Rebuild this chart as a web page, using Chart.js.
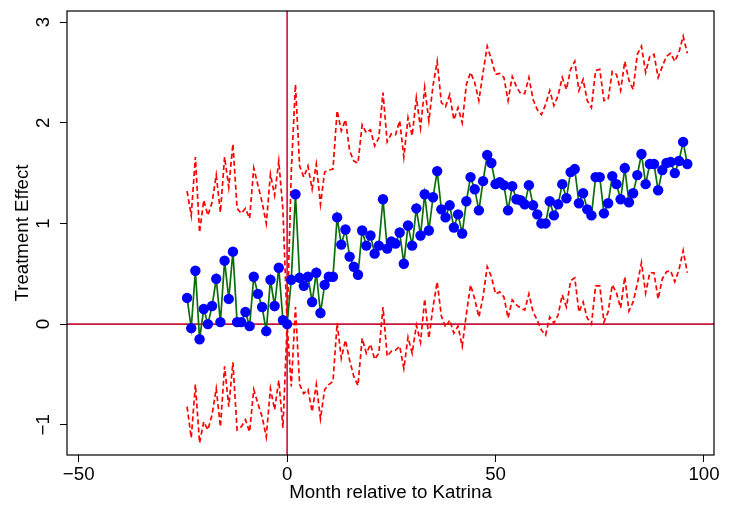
<!DOCTYPE html>
<html>
<head>
<meta charset="utf-8">
<script src="https://cdn.jsdelivr.net/npm/chart.js@4.4.1/dist/chart.umd.min.js"></script>
<style>
  html, body { margin: 0; padding: 0; background: #ffffff; }
  #wrap { width: 731px; height: 506px; }
</style>
</head>
<body>
<div id="wrap"><canvas id="c" width="731" height="506"></canvas></div>
<script>
// ---- data ----
const months = [
  -24,-23,-22,-21,-20,-19,-18,-17,-16,-15,-14,-13,-12,-11,-10,-9,-8,-7,-6,-5,-4,-3,-2,-1,
  0,1,2,3,4,5,6,7,8,9,10,11,12,13,14,15,16,17,18,19,20,21,22,23,24,25,26,27,28,29,30,
  31,32,33,34,35,36,37,38,39,40,41,42,43,44,45,46,47,48,49,50,51,52,53,54,55,56,57,58,59,60,
  61,62,63,64,65,66,67,68,69,70,71,72,73,74,75,76,77,78,79,80,81,82,83,84,85,86,87,88,89,90,
  91,92,93,94,95,96
];
const estimate = [
  0.26,-0.04,0.53,-0.15,0.15,0.00,0.18,0.45,0.02,0.63,0.25,0.72,0.02,0.02,0.12,-0.02,0.47,0.30,0.17,-0.07,0.44,0.18,0.56,0.04,
  0.00,0.44,1.29,0.46,0.38,0.47,0.22,0.51,0.11,0.39,0.47,0.47,1.06,0.79,0.94,0.67,0.57,0.49,0.93,0.78,0.88,0.70,0.78,1.24,0.75,0.82,0.80,0.91,0.60,0.98,0.78,
  1.15,0.88,1.29,0.93,1.26,1.52,1.14,1.06,1.18,0.96,1.09,0.90,1.22,1.46,1.34,1.13,1.42,1.68,1.60,1.39,1.41,1.38,1.13,1.37,1.24,1.23,1.19,1.38,1.18,1.09,
  1.00,1.00,1.22,1.08,1.19,1.39,1.25,1.51,1.54,1.20,1.30,1.14,1.08,1.46,1.46,1.10,1.20,1.47,1.39,1.24,1.55,1.21,1.30,1.48,1.69,1.39,1.59,1.59,1.33,1.53,
  1.60,1.61,1.50,1.62,1.81,1.59
];
const upperCI = [
  1.32,1.08,1.66,0.91,1.23,1.08,1.21,1.48,1.11,1.66,1.36,1.79,1.15,1.10,1.15,1.05,1.55,1.38,1.21,1.00,1.49,1.28,1.62,1.13,
  0.00,1.52,2.38,1.57,1.46,1.57,1.34,1.59,1.19,1.51,1.53,1.54,2.12,1.92,2.03,1.72,1.62,1.60,1.98,1.90,1.93,1.77,1.85,2.30,1.81,1.89,1.88,2.02,1.66,2.05,1.87,
  2.25,1.95,2.35,2.02,2.37,2.61,2.20,2.16,2.28,2.03,2.15,2.00,2.38,2.50,2.40,2.22,2.50,2.76,2.63,2.48,2.49,2.45,2.22,2.46,2.36,2.29,2.29,2.45,2.23,2.13,
  2.08,2.18,2.32,2.17,2.27,2.45,2.33,2.53,2.61,2.32,2.43,2.22,2.15,2.52,2.53,2.22,2.23,2.51,2.48,2.32,2.61,2.42,2.33,2.68,2.76,2.50,2.66,2.68,2.45,2.56,
  2.66,2.69,2.61,2.70,2.86,2.69
];
const lowerCI = [
  -0.82,-1.13,-0.60,-1.18,-0.97,-1.05,-0.90,-0.64,-1.02,-0.42,-0.82,-0.38,-1.05,-1.02,-0.95,-1.07,-0.65,-0.79,-0.92,-1.12,-0.64,-0.85,-0.56,-1.03,
  0.00,-0.62,0.17,-0.60,-0.69,-0.65,-0.87,-0.60,-0.94,-0.65,-0.60,-0.57,0.01,-0.34,-0.16,-0.36,-0.52,-0.61,-0.14,-0.29,-0.20,-0.35,-0.29,0.17,-0.32,-0.27,-0.26,-0.22,-0.44,-0.13,-0.29,
  -0.01,-0.18,0.25,-0.14,0.17,0.42,0.08,-0.03,0.04,-0.09,-0.02,-0.22,0.10,0.39,0.25,0.07,0.27,0.57,0.47,0.30,0.32,0.27,0.06,0.24,0.19,0.16,0.14,0.30,0.12,0.04,
  -0.06,-0.11,0.07,0.01,0.09,0.29,0.17,0.43,0.46,0.12,0.22,0.06,0.00,0.38,0.38,0.02,0.12,0.39,0.31,0.16,0.47,0.13,0.22,0.40,0.61,0.31,0.51,0.51,0.25,0.45,
  0.52,0.53,0.42,0.54,0.73,0.51
];
const xTicks = [-50, 0, 50, 100];
const xTickLabels = ['\u221250', '0', '50', '100'];
const yTicks = [-1, 0, 1, 2, 3];
const yTickLabels = ['\u22121', '0', '1', '2', '3'];
const refX = 0;
const refY = 0;

// ---- styles ----
const FONT = "'Liberation Sans', Arial, Helvetica, sans-serif";
const FS = 18.7;
const REF_COLOR = '#c8143c';

const toXY = (ys) => months.map((m, i) => ({ x: m, y: ys[i] }));

const framePlugin = {
  id: 'frame',
  beforeDatasetsDraw(chart) {
    const { ctx, chartArea: a, scales: { x, y } } = chart;
    ctx.save();
    ctx.strokeStyle = REF_COLOR;
    ctx.lineWidth = 1.6;
    const px = x.getPixelForValue(refX);
    const py = y.getPixelForValue(refY);
    ctx.beginPath();
    ctx.moveTo(px, a.top); ctx.lineTo(px, a.bottom);
    ctx.moveTo(a.left, py); ctx.lineTo(a.right, py);
    ctx.stroke();
    ctx.restore();
  },
  afterDraw(chart) {
    const { ctx, chartArea: a, scales: { y } } = chart;
    ctx.save();
    ctx.strokeStyle = '#000';
    ctx.lineWidth = 1.2;
    ctx.strokeRect(a.left, a.top, a.right - a.left, a.bottom - a.top);
    // y tick labels, rotated like the original
    ctx.fillStyle = '#000';
    ctx.font = FS + 'px ' + FONT;
    ctx.textAlign = 'center';
    ctx.textBaseline = 'middle';
    yTicks.forEach((v, i) => {
      const py = y.getPixelForValue(v);
      ctx.save();
      ctx.translate(44, py);
      ctx.rotate(-Math.PI / 2);
      ctx.fillText(yTickLabels[i], 0, 0);
      ctx.restore();
    });
    ctx.restore();
  }
};

new Chart(document.getElementById('c'), {
  type: 'line',
  data: {
    datasets: [
      {
        label: 'Treatment Effect',
        data: toXY(estimate),
        borderColor: '#0a6e0a',
        borderWidth: 1.7,
        pointRadius: 5.2,
        pointBackgroundColor: '#0000ff',
        pointBorderColor: '#0000ff',
        pointBorderWidth: 0,
        tension: 0
      },
      {
        label: 'Upper CI',
        data: toXY(upperCI),
        borderColor: '#ff0000',
        borderWidth: 1.7,
        borderDash: [5, 3],
        pointRadius: 0,
        tension: 0
      },
      {
        label: 'Lower CI',
        data: toXY(lowerCI),
        borderColor: '#ff0000',
        borderWidth: 1.7,
        borderDash: [5, 3],
        pointRadius: 0,
        tension: 0
      }
    ]
  },
  options: {
    responsive: false,
    animation: false,
    devicePixelRatio: 1,
    layout: { padding: { left: 0, right: 17, top: 11, bottom: 0 } },
    plugins: { legend: { display: false }, tooltip: { enabled: false } },
    scales: {
      x: {
        type: 'linear',
        min: -52.8,
        max: 102.4,
        afterBuildTicks(scale) { scale.ticks = xTicks.map(v => ({ value: v })); },
        afterFit(scale) { scale.height = 51; },
        ticks: {
          color: '#000',
          font: { family: FONT, size: FS },
          padding: 2,
          maxRotation: 0,
          autoSkip: false,
          callback(value) { const i = xTicks.indexOf(value); return i >= 0 ? xTickLabels[i] : ''; }
        },
        grid: { drawOnChartArea: false, drawTicks: true, tickLength: 7, color: '#000', lineWidth: 1 },
        border: { display: false },
        title: {
          display: true,
          text: 'Month relative to Katrina',
          color: '#000',
          font: { family: FONT, size: FS },
          padding: { top: 0, bottom: 1.5 }
        }
      },
      y: {
        type: 'linear',
        min: -1.3,
        max: 3.11,
        afterBuildTicks(scale) { scale.ticks = yTicks.map(v => ({ value: v })); },
        afterFit(scale) { scale.width = 67; },
        ticks: { display: false },
        grid: { drawOnChartArea: false, drawTicks: true, tickLength: 7, color: '#000', lineWidth: 1 },
        border: { display: false },
        title: {
          display: true,
          text: 'Treatment Effect',
          color: '#000',
          font: { family: FONT, size: FS },
          padding: { top: 12, bottom: 0 }
        }
      }
    }
  },
  plugins: [framePlugin]
});
</script>
</body>
</html>
